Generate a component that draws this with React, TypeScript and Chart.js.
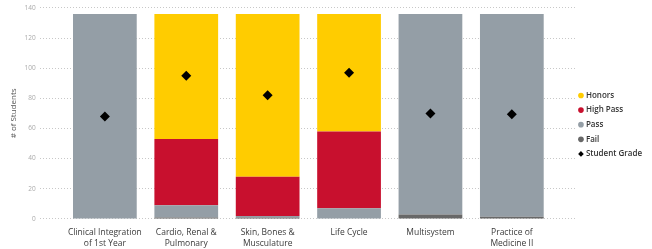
import React, { useEffect, useRef } from "react";
import { Chart, registerables } from "chart.js";

Chart.register(...registerables);

const categories: string[][] = [
  ["Clinical Integration", "of 1st Year"],
  ["Cardio, Renal &", "Pulmonary"],
  ["Skin, Bones &", "Musculature"],
  ["Life Cycle"],
  ["Multisystem"],
  ["Practice of", "Medicine II"],
];
const failValues = [0, 1, 1, 0, 3, 1.5];
const passValues = [136, 8, 1, 7, 133, 134.5];
const highPassValues = [0, 44, 26, 51, 0, 0];
const honorsValues = [0, 83, 108, 78, 0, 0];
const studentGrade = [68, 95, 82, 97, 70, 69.5];
const yTicks = [0, 20, 40, 60, 80, 100, 120, 140];
const legendOrder = ["Honors", "High Pass", "Pass", "Fail", "Student Grade"];

const toPts = (vals: number[]) => vals.map((y, i) => ({ x: i, y }));

export default function App() {
  const ref = useRef<HTMLCanvasElement>(null);
  useEffect(() => {
    document.body.style.margin = "0";
    const ctx = ref.current!;
    const barOpts = { stack: "g", barPercentage: 0.87, categoryPercentage: 0.9 };
    const defaultGen = (Chart as any).defaults.plugins.legend.labels.generateLabels;
    const chart = new Chart(ctx, {
      type: "bar",
      data: {
        datasets: [
          {
            type: "line",
            label: "Student Grade",
            data: toPts(studentGrade),
            showLine: false,
            pointStyle: "rectRot",
            pointRadius: 5,
            backgroundColor: "#000",
            borderColor: "#000",
            borderWidth: 0,
            order: -1,
          } as any,
          { label: "Fail", data: toPts(failValues), backgroundColor: "#686868", ...barOpts },
          { label: "Pass", data: toPts(passValues), backgroundColor: "#949ea6", ...barOpts },
          { label: "High Pass", data: toPts(highPassValues), backgroundColor: "#c8102e", ...barOpts },
          { label: "Honors", data: toPts(honorsValues), backgroundColor: "#ffcc00", ...barOpts },
        ],
      },
      options: {
        animation: false,
        responsive: false,
        maintainAspectRatio: false,
        layout: { padding: { top: 4, right: 0, bottom: 0, left: 7 } },
        plugins: {
          tooltip: { enabled: false },
          legend: {
            position: "right",
            align: "center",
            labels: {
              usePointStyle: true,
              boxWidth: 2,
              boxHeight: 4,
              padding: 3,
              color: "#333",
              font: { family: "'Open Sans', sans-serif", size: 8, weight: "600", lineHeight: 1.45 },
              generateLabels: (c: any) =>
                defaultGen(c)
                  .sort(
                    (a: any, b: any) =>
                      legendOrder.indexOf(a.text) - legendOrder.indexOf(b.text)
                  )
                  .map((it: any) => ({ ...it, text: [it.text] })),
            },
          },
        },
        scales: {
          x: {
            type: "linear",
            min: -0.8,
            max: 5.8,
            offset: false,
            stacked: true,
            grid: { display: false },
            border: { display: false },
            afterBuildTicks: (scale: any) => {
              scale.ticks = categories.map((_, i) => ({ value: i }));
            },
            ticks: {
              autoSkip: false,
              maxRotation: 0,
              color: "#3a3a3a",
              padding: 0,
              font: { family: "'Open Sans', sans-serif", size: 8.5, lineHeight: 1.3 },
              callback: (v: any) => categories[Number(v)] ?? "",
            },
          },
          y: {
            stacked: true,
            min: 0,
            max: 140,
            afterBuildTicks: (scale: any) => {
              scale.ticks = yTicks.map((v) => ({ value: v }));
            },
            grid: {
              color: "#c8c8c8",
              lineWidth: 1,
              drawTicks: false,
            },
            border: { display: false, dash: [1, 2] },
            ticks: {
              color: "#aaa",
              padding: 4,
              font: { family: "'Open Sans', sans-serif", size: 6.5 },
            },
            title: {
              display: true,
              text: "# of Students",
              color: "#555",
              padding: 2,
              font: { family: "'Open Sans', sans-serif", size: 8 },
            },
          },
        },
      },
    });
    return () => chart.destroy();
  }, []);
  return (
    <div style={{ width: 652, height: 249 }}>
      <canvas ref={ref} width={652} height={249} />
    </div>
  );
}
